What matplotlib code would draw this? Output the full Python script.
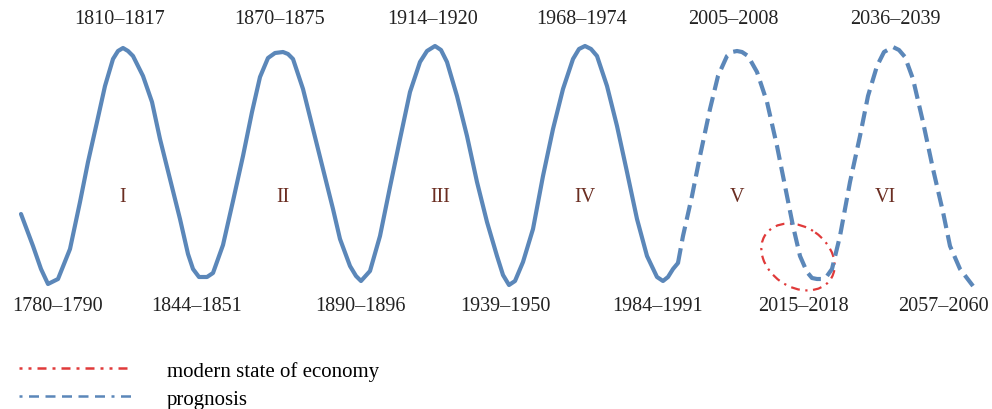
import matplotlib
matplotlib.use('Agg')
import matplotlib.pyplot as plt
from matplotlib.patches import Ellipse
from matplotlib.lines import Line2D

# Long-wave curve (x across, y = depth from top)
solid_x = [21, 33, 41, 48, 58, 70, 80, 88, 97, 105, 113, 118, 123, 128, 133, 143, 152, 160, 170, 180, 188,
           193, 199, 207, 213, 223, 233, 243, 252, 260, 268, 275, 283, 288, 293, 303, 313, 323, 333, 340,
           350, 356, 361, 370, 380, 390, 400, 410, 420, 427, 435, 441, 447, 457, 467, 477, 487, 497, 503,
           509, 515, 523, 533, 543, 553, 563, 573, 579, 585, 591, 597, 607, 617, 627, 637, 647, 657, 663,
           668, 673, 678]
solid_y = [215, 247, 270, 285, 280, 250, 203, 163, 123, 87, 60, 52, 49, 52, 57, 77, 103, 140, 180, 220, 255,
           270, 278, 278, 274, 246, 202, 157, 113, 78, 59, 54, 53, 55, 60, 90, 130, 170, 210, 240,
           267, 277, 282, 272, 237, 188, 140, 93, 63, 52, 47, 51, 63, 97, 137, 183, 223, 257, 276,
           286, 282, 263, 230, 177, 130, 90, 60, 50, 47, 50, 57, 87, 127, 173, 220, 257, 278, 282,
           278, 270, 264]

prog_x = [678, 683, 692, 700, 710, 718, 727, 732, 737, 742, 748, 757, 767, 777, 785, 793, 800, 807, 812,
          817, 822, 827, 832, 840, 850, 860, 868, 877, 884, 893, 899, 905, 913, 923, 933, 943, 950, 960, 973]
prog_y = [264, 237, 197, 157, 110, 77, 57, 53, 52, 53, 57, 73, 103, 147, 187, 227, 257, 273, 279,
          280, 280, 277, 270, 237, 183, 137, 97, 67, 53, 48, 51, 58, 80, 123, 170, 213, 247, 270, 287]

peak_labels = ['1810–1817', '1870–1875', '1914–1920', '1968–1974', '2005–2008', '2036–2039']
peak_pos = [120, 280, 433, 582, 733, 895]
trough_labels = ['1780–1790', '1844–1851', '1890–1896', '1939–1950', '1984–1991', '2015–2018', '2057–2060']
trough_pos = [58, 197, 360, 505, 658, 803, 943]
wave_names = ['I', 'II', 'III', 'IV', 'V', 'VI']
wave_pos = [123, 283, 440, 585, 737, 885]

blue = '#5b87b9'
red = '#e03a3a'
serif = 'Liberation Serif'

fig = plt.figure(figsize=(9.92, 4.10), dpi=100)
ax = fig.add_axes([0, 0, 1, 1])
ax.set_xlim(0, 992)
ax.set_ylim(410, 0)
ax.axis('off')

ax.plot(solid_x, solid_y, color=blue, lw=3, solid_joinstyle='round', solid_capstyle='round')
dl, = ax.plot(prog_x, prog_y, color=blue, lw=3, dash_joinstyle='round')
dl.set_dashes((3.6, 1.7))

ell = Ellipse((798, 258), 79, 60, angle=35, fill=False, edgecolor=red, lw=1.6,
              linestyle=(0, (4, 2.5, 1, 2.5)))
ax.add_patch(ell)

for lab, x in zip(peak_labels, peak_pos):
    ax.text(x, 20, lab, ha='center', va='center', fontsize=14.5, family=serif, color='#222222')
for lab, x in zip(trough_labels, trough_pos):
    ax.text(x, 307, lab, ha='center', va='center', fontsize=14.5, family=serif, color='#222222')
for lab, x in zip(wave_names, wave_pos):
    ax.text(x, 198, lab, ha='center', va='center', fontsize=14.5, family=serif, color='#6b2e22')

h1 = Line2D([], [], color=red, lw=1.8, linestyle=(0, (1.2, 2.4, 1.2, 2.4, 3.6, 2.4, 1.2, 2.4, 3.6, 2.4, 1.2, 2.4, 3.6, 2.4)))
h2 = Line2D([], [], color=blue, lw=1.8, linestyle=(0, (1.2, 2.6, 4, 2.6, 4, 2.6, 4, 2.6, 4, 2.6, 4, 2.6)))
fig.legend([h1, h2], ['modern state of economy', 'prognosis'], loc='lower left',
           bbox_to_anchor=(0.0, -0.045), frameon=False, handlelength=5.5, handletextpad=1.6,
           labelspacing=0.4, prop={'family': serif, 'size': 15})

fig.savefig('out.png', dpi=100)
